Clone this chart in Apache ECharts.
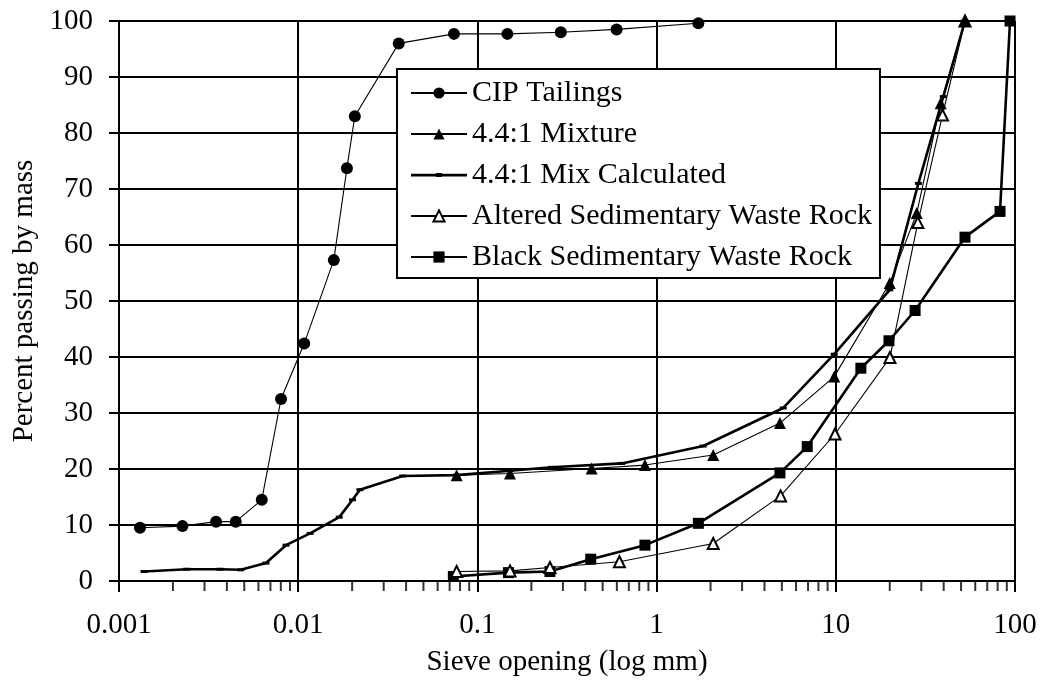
<!DOCTYPE html>
<html>
<head>
<meta charset="utf-8">
<script src="https://cdn.jsdelivr.net/npm/echarts@6/dist/echarts.min.js"></script>
<style>
html,body{margin:0;padding:0;background:#fff;}
#chart{width:1048px;height:690px;}
</style>
</head>
<body>
<div id="chart"></div>
<script>
// ---- data (sieve opening mm, percent passing) ----
const cipSize = [0.00131, 0.00226, 0.00348, 0.00448, 0.00626, 0.00802, 0.0108, 0.0158, 0.0187, 0.0207, 0.0364, 0.074, 0.147, 0.292, 0.598, 1.71];
const cipPass = [9.5, 9.8, 10.6, 10.6, 14.5, 32.5, 42.4, 57.3, 73.7, 83.0, 96.0, 97.7, 97.7, 98.0, 98.5, 99.6];

const mixSize = [0.0766, 0.152, 0.434, 0.861, 2.07, 4.88, 9.8, 20.0, 28.3, 38.5, 52.6];
const mixPass = [18.9, 19.2, 20.1, 20.7, 22.5, 28.2, 36.5, 53.2, 65.7, 85.3, 100];

const calcSize = [0.00138, 0.00239, 0.00366, 0.00478, 0.00661, 0.00855, 0.01165, 0.01695, 0.0201, 0.0221, 0.0383, 0.0766, 0.152, 0.26, 0.639, 1.82, 5.09, 9.8, 20.0, 28.9, 39.8, 52.6];
const calcPass = [1.7, 2.1, 2.1, 2.0, 3.2, 6.4, 8.5, 11.4, 14.5, 16.3, 18.75, 18.9, 19.7, 20.3, 21.0, 24.1, 30.9, 40.5, 52.0, 71.0, 86.5, 100];

const altSize = [0.0766, 0.152, 0.254, 0.62, 2.07, 4.92, 9.9, 20.05, 28.7, 39.4, 52.6];
const altPass = [1.7, 1.8, 2.4, 3.45, 6.7, 15.2, 26.25, 39.9, 64.0, 83.2, 100];

const blackSize = [0.0734, 0.149, 0.254, 0.429, 0.861, 1.71, 4.88, 6.93, 13.8, 19.8, 27.7, 52.6, 82.5, 93.8];
const blackPass = [0.8, 1.5, 1.7, 3.9, 6.4, 10.3, 19.3, 24.0, 38.0, 42.9, 48.3, 61.4, 66.0, 100];

const seriesNames = ['CIP Tailings', '4.4:1 Mixture', '4.4:1 Mix Calculated', 'Altered Sedimentary Waste Rock', 'Black Sedimentary Waste Rock'];
const xTickLabels = ['0.001', '0.01', '0.1', '1', '10', '100'];
const xTitle = 'Sieve opening (log mm)';
const yTitle = 'Percent passing by mass';

// ---- build ----
const pairs = (xs, ys) => xs.map((x, i) => [x, ys[i]]);
const minorTicks = [];
for (let k = -3; k <= 1; k++) {
  for (let m = 2; m <= 9; m++) minorTicks.push([m * Math.pow(10, k), 0]);
}
const FONT = 'Liberation Serif';
const chart = echarts.init(document.getElementById('chart'), null, {renderer: 'canvas'});

const option = {
  animation: false,
  backgroundColor: '#fff',
  textStyle: {fontFamily: FONT, color: '#000'},
  grid: {left: 119, right: 33, top: 21, bottom: 109},
  legend: {
    orient: 'vertical',
    left: 397, top: 69,
    backgroundColor: '#fff',
    borderColor: '#000', borderWidth: 2,
    padding: [9, 8, 6, 13],
    itemWidth: 56, itemHeight: 14, itemGap: 11,
    textStyle: {fontFamily: FONT, fontSize: 30, color: '#000'},
    data: [
      {name: seriesNames[0]},
      {name: seriesNames[1]},
      {name: seriesNames[2], icon: 'path://M0,0h0.05v0.05h-0.05z M0,14h0.05v-0.05h-0.05z M0,5.8h56v2.6h-56z M25,5h6v4h-6z'},
      {name: seriesNames[3]},
      {name: seriesNames[4]}
    ]
  },
  xAxis: {
    type: 'log', logBase: 10, min: 0.001, max: 100,
    name: xTitle, nameLocation: 'middle', nameGap: 67,
    nameTextStyle: {fontFamily: FONT, fontSize: 29, color: '#000'},
    axisLine: {show: true, onZero: false, lineStyle: {color: '#000', width: 2}},
    axisTick: {show: true, inside: false, length: 11, lineStyle: {color: '#000', width: 2}},
    axisLabel: {
      margin: 30, fontFamily: FONT, fontSize: 29, color: '#000',
      formatter: v => xTickLabels[Math.round(Math.log10(v)) + 3]
    },
    splitLine: {show: true, lineStyle: {color: '#000', width: 2}}
  },
  yAxis: {
    type: 'value', min: 0, max: 100, interval: 10,
    name: yTitle, nameLocation: 'middle', nameGap: 73,
    nameTextStyle: {fontFamily: FONT, fontSize: 29, color: '#000'},
    axisLine: {show: true, lineStyle: {color: '#000', width: 2}},
    axisTick: {show: true, inside: false, length: 10, lineStyle: {color: '#000', width: 2}},
    axisLabel: {margin: 26, fontFamily: FONT, fontSize: 29, color: '#000'},
    splitLine: {show: true, lineStyle: {color: '#000', width: 2}}
  },
  series: [
    {
      name: 'minor', type: 'scatter', silent: true, clip: false, z: 1,
      data: minorTicks,
      symbol: 'rect', symbolSize: [2, 9], symbolOffset: [0, 5.5],
      itemStyle: {color: '#000'}
    },
    {
      name: seriesNames[4], type: 'line', data: pairs(blackSize, blackPass),
      symbol: 'rect', symbolSize: 11,
      itemStyle: {color: '#000'}, lineStyle: {color: '#000', width: 2.6}, z: 3
    },
    {
      name: seriesNames[3], type: 'line', data: pairs(altSize, altPass),
      symbol: 'triangle', symbolSize: 11,
      itemStyle: {color: '#fff', borderColor: '#000', borderWidth: 2},
      lineStyle: {color: '#000', width: 1.1}, z: 4
    },
    {
      name: seriesNames[2], type: 'line', data: pairs(calcSize, calcPass),
      symbol: 'rect', symbolSize: [7, 3],
      itemStyle: {color: '#000'}, lineStyle: {color: '#000', width: 2.6}, z: 3
    },
    {
      name: seriesNames[1], type: 'line', data: pairs(mixSize, mixPass),
      symbol: 'triangle', symbolSize: 12,
      itemStyle: {color: '#000'}, lineStyle: {color: '#000', width: 1.1}, z: 5
    },
    {
      name: seriesNames[0], type: 'line', data: pairs(cipSize, cipPass),
      symbol: 'circle', symbolSize: 12,
      itemStyle: {color: '#000'}, lineStyle: {color: '#000', width: 1.1}, z: 5
    }
  ]
};
chart.setOption(option);
</script>
</body>
</html>
